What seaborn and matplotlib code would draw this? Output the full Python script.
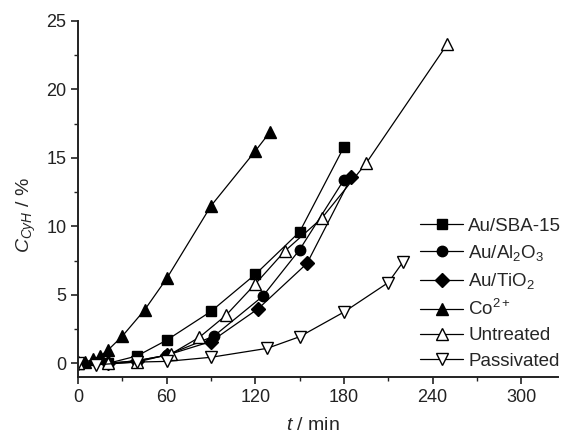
import matplotlib
matplotlib.use("Agg")
import matplotlib.pyplot as plt
import seaborn as sns
import pandas as pd

# Time (min) and cyclohexene conversion (%) for each catalyst
t_sba = [0, 20, 40, 60, 90, 120, 150, 180]
c_sba = [0.0, 0.0, 0.55, 1.7, 3.8, 6.5, 9.6, 15.8]

t_al = [0, 20, 40, 60, 92, 125, 150, 180]
c_al = [0.0, 0.0, 0.2, 0.6, 2.0, 4.9, 8.3, 13.4]

t_ti = [0, 20, 40, 60, 90, 122, 155, 185]
c_ti = [0.0, 0.0, 0.2, 0.6, 1.6, 4.0, 7.3, 13.6]

t_co = [0, 5, 10, 15, 20, 30, 45, 60, 90, 120, 130]
c_co = [0.0, 0.1, 0.3, 0.55, 0.95, 2.0, 3.9, 6.2, 11.5, 15.5, 16.9]

t_un = [0, 20, 40, 63, 82, 100, 120, 140, 165, 195, 250]
c_un = [0.0, 0.0, 0.1, 0.7, 1.9, 3.5, 5.8, 8.2, 10.6, 14.6, 23.3]

t_pa = [0, 12, 40, 60, 90, 128, 150, 180, 210, 220]
c_pa = [0.0, -0.1, 0.1, 0.15, 0.45, 1.1, 1.95, 3.75, 5.9, 7.4]

labels = ["Au/SBA-15", "Au/Al$_2$O$_3$", "Au/TiO$_2$", "Co$^{2+}$",
          "Untreated", "Passivated"]
times = [t_sba, t_al, t_ti, t_co, t_un, t_pa]
convs = [c_sba, c_al, c_ti, c_co, c_un, c_pa]
markers = ["s", "o", "D", "^", "^", "v"]
faces = ["black", "black", "black", "black", "white", "white"]
sizes = [7, 7.5, 7, 8, 8.5, 8.5]

sns.set_style("ticks")
plt.rcParams["font.family"] = ["Liberation Sans", "DejaVu Sans"]
plt.rcParams["mathtext.fontset"] = "custom"
plt.rcParams["mathtext.rm"] = "Liberation Sans"
plt.rcParams["mathtext.it"] = "Liberation Sans:italic"

fig = plt.figure(figsize=(5.66, 4.34), dpi=100)
ax = fig.add_axes([0.138, 0.131, 0.848, 0.821])

for lab, t, c, m, fc, ms in zip(labels, times, convs, markers, faces, sizes):
    df = pd.DataFrame({"t": t, "c": c})
    sns.lineplot(data=df, x="t", y="c", ax=ax, color="black", lw=0.9,
                 marker=m, markersize=ms, markerfacecolor=fc,
                 markeredgecolor="black", markeredgewidth=1.0,
                 label=lab, sort=False)

ax.set_xlim(0, 325)
ax.set_ylim(-1, 25)
ax.set_xticks([0, 60, 120, 180, 240, 300])
ax.set_xticks(range(30, 330, 60), minor=True)
ax.set_yticks([0, 5, 10, 15, 20, 25])
ax.set_yticks([2.5, 7.5, 12.5, 17.5, 22.5], minor=True)
ax.tick_params(which="major", direction="out", length=5, width=1.2,
               labelsize=13, colors="#222222")
ax.tick_params(which="minor", direction="out", length=3, width=1.0,
               colors="#222222")
for side in ["left", "bottom"]:
    ax.spines[side].set_linewidth(1.4)
    ax.spines[side].set_color("#222222")
sns.despine(ax=ax)

ax.set_xlabel("$t$ / min", fontsize=14)
ax.set_ylabel("$C_{CyH}$ / %", fontsize=14)
ax.xaxis.set_label_coords(0.489, -0.111)
ax.yaxis.set_label_coords(-0.084, 0.455)

leg = ax.legend(loc="lower right", bbox_to_anchor=(1.022, 0.0), frameon=False,
                fontsize=13.5, handlelength=2.3, handletextpad=0.25,
                labelspacing=0.43, borderaxespad=0)

fig.savefig("out.png", dpi=100)
